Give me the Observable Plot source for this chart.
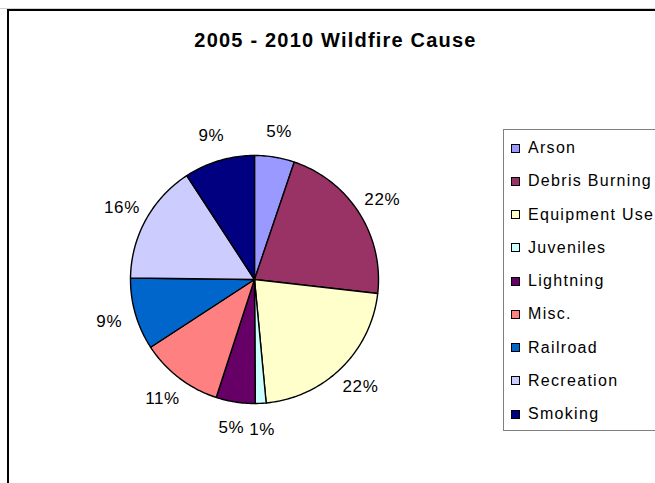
<!DOCTYPE html>
<html>
<head>
<meta charset="utf-8">
<script src="https://cdn.jsdelivr.net/npm/d3@7"></script>
<script src="https://cdn.jsdelivr.net/npm/@observablehq/plot@0.6"></script>
<style>
  html, body { margin: 0; padding: 0; background: #fff; }
  #wrap { position: relative; width: 655px; height: 483px; overflow: hidden; background: #fff;
          font-family: "Liberation Sans", Arial, sans-serif; }
  #topline { position: absolute; left: 0; top: 8px; width: 655px; height: 1px; background: #d0d0d0; }
  #frame { position: absolute; left: 7px; top: 9px; width: 800px; height: 600px;
           border-left: 2px solid #000; border-top: 2px solid #000; }
  #title { position: absolute; left: 0; width: 671px; top: 29px; text-align: center;
           font-weight: bold; font-size: 20px; letter-spacing: 1.2px; color: #000; }
  #chart { position: absolute; left: 0; top: 0; }
  #legend { position: absolute; left: 503px; top: 129px; width: 200px; height: 300px;
            border: 1px solid #808080; background: #fff; }
  .item { position: absolute; left: 7px; height: 20px; display: flex; align-items: center;
          font-size: 16px; letter-spacing: 1.3px; color: #000; }
  .sw { width: 7px; height: 7px; border: 1px solid #000; margin-right: 8px; }
</style>
</head>
<body>
<div id="wrap">
  <div id="topline"></div>
  <div id="frame"></div>
  <div id="chart"></div>
  <div id="title"></div>
  <div id="legend"></div>
</div>
<script>
const title = "2005 - 2010 Wildfire Cause";
const causes = ["Arson", "Debris Burning", "Equipment Use", "Juveniles", "Lightning", "Misc.", "Railroad", "Recreation", "Smoking"];
const shares = [5.2, 21.6, 21.7, 1.4, 5.1, 10.8, 9.4, 15.6, 9.2];
const colors = ["#9999FF", "#993366", "#FFFFCC", "#CCFFFF", "#660066", "#FF8080", "#0066CC", "#CCCCFF", "#000080"];

document.getElementById("title").textContent = title;

// slice geometry (unit circle, clockwise from top)
const total = d3.sum(shares);
const pie = d3.pie().sort(null).value(d => d)(shares);
const slicePts = [];
const labels = [];
pie.forEach((p, i) => {
  const a0 = p.startAngle, a1 = p.endAngle;
  const n = Math.max(2, Math.ceil((a1 - a0) / (Math.PI / 180)));
  slicePts.push({cause: causes[i], x: 0, y: 0});
  for (let k = 0; k <= n; k++) {
    const a = a0 + (a1 - a0) * k / n;
    slicePts.push({cause: causes[i], x: Math.sin(a), y: Math.cos(a)});
  }
  slicePts.push({cause: causes[i], x: 0, y: 0});
  const m = (a0 + a1) / 2;
  labels.push({x: 1.22 * Math.sin(m), y: 1.21 * Math.cos(m), text: Math.round(shares[i] / total * 100) + "%"});
});

const chart = Plot.plot({
  width: 655,
  height: 483,
  marginLeft: 130,
  marginRight: 277,
  marginTop: 155,
  marginBottom: 80,
  x: {domain: [-1, 1], axis: null},
  y: {domain: [-1, 1], axis: null},
  color: {domain: causes, range: colors},
  style: {background: "transparent", fontFamily: "Liberation Sans, Arial, sans-serif", overflow: "visible"},
  marks: [
    Plot.line(slicePts, {x: "x", y: "y", z: "cause", fill: "cause", stroke: "#000", strokeWidth: 1.4, strokeLinejoin: "round"}),
    Plot.text(labels, {x: "x", y: "y", text: "text", fontSize: 17, fill: "#000"})
  ]
});
chart.querySelectorAll("text").forEach(t => t.setAttribute("letter-spacing", "0.6"));
document.getElementById("chart").appendChild(chart);

// legend
const leg = document.getElementById("legend");
causes.forEach((c, i) => {
  const it = document.createElement("div");
  it.className = "item";
  it.style.top = (8 + i * 33.25) + "px";
  const sw = document.createElement("div");
  sw.className = "sw";
  sw.style.background = colors[i];
  const tx = document.createElement("span");
  tx.textContent = c;
  it.appendChild(sw);
  it.appendChild(tx);
  leg.appendChild(it);
});
</script>
</body>
</html>
